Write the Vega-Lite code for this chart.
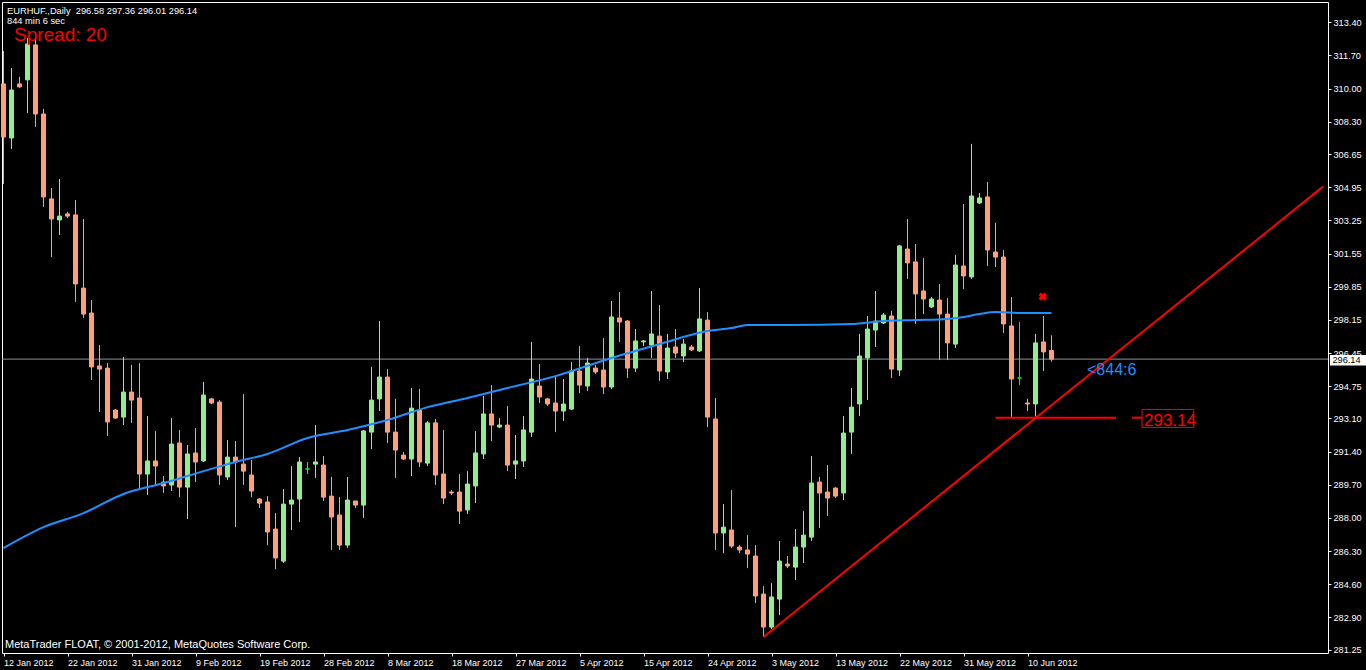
{
  "$schema": "https://vega.github.io/schema/vega-lite/v6.json",
  "width": 1326,
  "height": 651,
  "autosize": "none",
  "padding": {"left": 2, "top": 2, "right": 38, "bottom": 17},
  "background": "#000000",
  "config": {
    "view": {"stroke": "#ffffff", "strokeWidth": 1, "fill": "#000000"},
    "scale": {"continuousPadding": 0},
    "axis": {"labelOverlap": false, "labelFlush": false, "labelBound": false},
    "axisX": {"tickSize": 3, "tickColor": "#ffffff", "labelColor": "#ffffff", "labelFont": "Liberation Sans Narrow, Liberation Sans", "labelFontSize": 9, "labelAlign": "left", "labelDx": 1, "labelBaseline": "top", "labelPadding": 2, "domain": false, "grid": false, "labelOverlap": false, "labelFlush": false},
    "axisY": {"tickSize": 3, "tickColor": "#ffffff", "labelColor": "#ffffff", "labelFont": "Liberation Sans", "labelFontSize": 9.2, "labelPadding": 2, "domain": false, "grid": false, "labelOverlap": false, "labelFlush": false}
  },
  "resolve": {"scale": {"color": "independent", "stroke": "independent"}},
  "datasets": {
    "candles": [
      {"i":0,"o":310.24,"h":311.93,"l":305.12,"c":307.52,"t":"down"},
      {"i":1,"o":307.47,"h":311.06,"l":306.91,"c":309.93,"t":"up"},
      {"i":2,"o":310.24,"h":310.60,"l":310.04,"c":310.09,"t":"down"},
      {"i":3,"o":310.45,"h":312.60,"l":308.75,"c":312.29,"t":"up"},
      {"i":4,"o":312.24,"h":312.65,"l":308.04,"c":308.70,"t":"down"},
      {"i":5,"o":308.70,"h":308.96,"l":303.94,"c":304.45,"t":"down"},
      {"i":6,"o":304.35,"h":304.91,"l":301.37,"c":303.32,"t":"down"},
      {"i":7,"o":303.27,"h":305.37,"l":302.50,"c":303.47,"t":"up"},
      {"i":8,"o":303.58,"h":303.68,"l":303.37,"c":303.47,"t":"down"},
      {"i":9,"o":303.53,"h":304.29,"l":299.07,"c":299.99,"t":"down"},
      {"i":10,"o":299.78,"h":303.32,"l":298.25,"c":298.45,"t":"down"},
      {"i":11,"o":298.50,"h":299.17,"l":295.07,"c":295.74,"t":"down"},
      {"i":12,"o":295.79,"h":296.86,"l":293.43,"c":295.63,"t":"down"},
      {"i":13,"o":295.68,"h":295.94,"l":292.20,"c":292.92,"t":"down"},
      {"i":14,"o":293.53,"h":293.58,"l":293.07,"c":293.12,"t":"down"},
      {"i":15,"o":293.17,"h":296.25,"l":292.76,"c":294.45,"t":"up"},
      {"i":16,"o":294.45,"h":295.84,"l":292.87,"c":294.04,"t":"down"},
      {"i":17,"o":294.15,"h":295.94,"l":289.43,"c":290.25,"t":"down"},
      {"i":18,"o":290.25,"h":293.22,"l":289.17,"c":290.92,"t":"up"},
      {"i":19,"o":290.92,"h":292.45,"l":289.69,"c":290.66,"t":"down"},
      {"i":20,"o":289.84,"h":290.15,"l":289.28,"c":289.64,"t":"down"},
      {"i":21,"o":289.69,"h":293.12,"l":289.38,"c":291.79,"t":"up"},
      {"i":22,"o":291.84,"h":292.51,"l":289.07,"c":289.58,"t":"down"},
      {"i":23,"o":289.58,"h":291.74,"l":287.94,"c":291.28,"t":"up"},
      {"i":24,"o":291.33,"h":292.61,"l":289.84,"c":290.87,"t":"down"},
      {"i":25,"o":290.92,"h":294.97,"l":290.87,"c":294.30,"t":"up"},
      {"i":26,"o":294.10,"h":294.15,"l":293.84,"c":293.89,"t":"down"},
      {"i":27,"o":293.94,"h":294.04,"l":289.69,"c":290.20,"t":"down"},
      {"i":28,"o":290.10,"h":291.99,"l":289.94,"c":291.12,"t":"up"},
      {"i":29,"o":291.12,"h":291.94,"l":287.53,"c":290.87,"t":"down"},
      {"i":30,"o":290.76,"h":294.35,"l":289.69,"c":290.40,"t":"down"},
      {"i":31,"o":290.20,"h":290.97,"l":289.07,"c":289.38,"t":"down"},
      {"i":32,"o":288.97,"h":289.02,"l":288.51,"c":288.76,"t":"down"},
      {"i":33,"o":288.82,"h":289.12,"l":286.61,"c":287.28,"t":"down"},
      {"i":34,"o":287.43,"h":288.25,"l":285.38,"c":285.95,"t":"down"},
      {"i":35,"o":285.79,"h":289.48,"l":285.69,"c":288.71,"t":"up"},
      {"i":36,"o":288.71,"h":290.66,"l":287.38,"c":288.92,"t":"up"},
      {"i":37,"o":288.97,"h":291.12,"l":287.79,"c":290.87,"t":"up"},
      {"i":38,"o":290.51,"h":290.87,"l":290.25,"c":290.51,"t":"doji"},
      {"i":39,"o":290.76,"h":292.76,"l":290.05,"c":290.87,"t":"up"},
      {"i":40,"o":290.71,"h":291.17,"l":288.87,"c":289.07,"t":"down"},
      {"i":41,"o":289.12,"h":290.10,"l":286.36,"c":288.05,"t":"down"},
      {"i":42,"o":288.15,"h":289.07,"l":286.36,"c":286.61,"t":"down"},
      {"i":43,"o":286.61,"h":290.10,"l":286.46,"c":288.92,"t":"up"},
      {"i":44,"o":288.87,"h":288.87,"l":288.51,"c":288.66,"t":"down"},
      {"i":45,"o":288.66,"h":292.51,"l":288.00,"c":292.46,"t":"up"},
      {"i":46,"o":292.40,"h":295.74,"l":291.53,"c":294.04,"t":"up"},
      {"i":47,"o":294.10,"h":298.09,"l":293.48,"c":295.22,"t":"up"},
      {"i":48,"o":295.22,"h":295.63,"l":291.84,"c":292.40,"t":"down"},
      {"i":49,"o":292.40,"h":294.10,"l":290.05,"c":291.48,"t":"down"},
      {"i":50,"o":291.22,"h":291.38,"l":290.97,"c":291.02,"t":"down"},
      {"i":51,"o":291.02,"h":294.66,"l":290.15,"c":293.63,"t":"up"},
      {"i":52,"o":293.53,"h":294.61,"l":290.61,"c":290.87,"t":"down"},
      {"i":53,"o":290.81,"h":292.97,"l":290.66,"c":292.87,"t":"up"},
      {"i":54,"o":292.87,"h":293.07,"l":289.69,"c":290.20,"t":"down"},
      {"i":55,"o":290.25,"h":292.51,"l":288.71,"c":289.02,"t":"down"},
      {"i":56,"o":289.33,"h":289.43,"l":289.17,"c":289.28,"t":"down"},
      {"i":57,"o":289.33,"h":290.25,"l":287.69,"c":288.35,"t":"down"},
      {"i":58,"o":288.41,"h":290.40,"l":288.20,"c":289.74,"t":"up"},
      {"i":59,"o":289.64,"h":292.45,"l":288.76,"c":291.33,"t":"up"},
      {"i":60,"o":291.28,"h":294.25,"l":291.02,"c":293.33,"t":"up"},
      {"i":61,"o":293.33,"h":294.81,"l":291.94,"c":292.76,"t":"down"},
      {"i":62,"o":292.66,"h":293.12,"l":292.61,"c":292.76,"t":"up"},
      {"i":63,"o":292.76,"h":293.74,"l":290.40,"c":290.71,"t":"down"},
      {"i":64,"o":290.76,"h":292.25,"l":289.99,"c":290.92,"t":"up"},
      {"i":65,"o":290.92,"h":293.22,"l":290.61,"c":292.51,"t":"up"},
      {"i":66,"o":292.40,"h":297.02,"l":292.15,"c":295.12,"t":"up"},
      {"i":67,"o":294.76,"h":295.89,"l":293.89,"c":294.20,"t":"down"},
      {"i":68,"o":294.10,"h":294.15,"l":293.74,"c":293.84,"t":"down"},
      {"i":69,"o":293.89,"h":295.27,"l":292.40,"c":293.48,"t":"down"},
      {"i":70,"o":293.48,"h":295.12,"l":292.97,"c":293.84,"t":"up"},
      {"i":71,"o":293.58,"h":295.99,"l":293.53,"c":295.53,"t":"up"},
      {"i":72,"o":295.53,"h":296.81,"l":294.40,"c":294.81,"t":"down"},
      {"i":73,"o":294.76,"h":296.20,"l":294.51,"c":295.94,"t":"up"},
      {"i":74,"o":295.68,"h":295.84,"l":295.38,"c":295.48,"t":"down"},
      {"i":75,"o":295.58,"h":297.22,"l":294.35,"c":294.71,"t":"down"},
      {"i":76,"o":294.71,"h":299.12,"l":294.61,"c":298.30,"t":"up"},
      {"i":77,"o":298.25,"h":299.58,"l":297.02,"c":298.04,"t":"down"},
      {"i":78,"o":298.09,"h":298.14,"l":295.17,"c":295.68,"t":"down"},
      {"i":79,"o":295.68,"h":297.68,"l":295.48,"c":297.07,"t":"up"},
      {"i":80,"o":297.02,"h":297.12,"l":296.81,"c":297.07,"t":"up"},
      {"i":81,"o":296.86,"h":299.63,"l":296.20,"c":297.43,"t":"up"},
      {"i":82,"o":297.32,"h":298.91,"l":295.02,"c":295.53,"t":"down"},
      {"i":83,"o":295.48,"h":297.43,"l":295.12,"c":296.71,"t":"up"},
      {"i":84,"o":296.76,"h":297.68,"l":296.20,"c":296.45,"t":"down"},
      {"i":85,"o":296.30,"h":297.17,"l":295.99,"c":296.91,"t":"up"},
      {"i":86,"o":296.76,"h":296.86,"l":296.56,"c":296.61,"t":"down"},
      {"i":87,"o":296.56,"h":299.78,"l":296.50,"c":298.20,"t":"up"},
      {"i":88,"o":298.14,"h":298.55,"l":292.66,"c":293.17,"t":"down"},
      {"i":89,"o":293.07,"h":294.15,"l":286.36,"c":287.23,"t":"down"},
      {"i":90,"o":287.23,"h":288.71,"l":286.20,"c":287.53,"t":"up"},
      {"i":91,"o":287.38,"h":289.43,"l":286.46,"c":286.56,"t":"down"},
      {"i":92,"o":286.51,"h":286.61,"l":286.20,"c":286.36,"t":"down"},
      {"i":93,"o":286.36,"h":287.12,"l":285.43,"c":286.15,"t":"down"},
      {"i":94,"o":286.05,"h":286.61,"l":283.64,"c":284.00,"t":"down"},
      {"i":95,"o":284.10,"h":284.51,"l":281.90,"c":282.41,"t":"down"},
      {"i":96,"o":282.41,"h":284.66,"l":282.31,"c":283.95,"t":"up"},
      {"i":97,"o":283.84,"h":286.82,"l":283.02,"c":285.79,"t":"up"},
      {"i":98,"o":285.64,"h":286.05,"l":285.43,"c":285.54,"t":"down"},
      {"i":99,"o":285.48,"h":287.43,"l":284.82,"c":286.51,"t":"up"},
      {"i":100,"o":286.51,"h":288.35,"l":285.69,"c":287.12,"t":"up"},
      {"i":101,"o":287.02,"h":291.17,"l":286.82,"c":289.79,"t":"up"},
      {"i":102,"o":289.84,"h":290.10,"l":287.48,"c":289.28,"t":"down"},
      {"i":103,"o":289.33,"h":290.71,"l":288.10,"c":289.02,"t":"down"},
      {"i":104,"o":289.53,"h":289.58,"l":289.02,"c":289.12,"t":"down"},
      {"i":105,"o":289.28,"h":293.22,"l":288.92,"c":292.35,"t":"up"},
      {"i":106,"o":292.40,"h":294.66,"l":291.28,"c":293.68,"t":"up"},
      {"i":107,"o":293.84,"h":297.43,"l":293.22,"c":296.30,"t":"up"},
      {"i":108,"o":296.20,"h":298.35,"l":294.04,"c":297.68,"t":"up"},
      {"i":109,"o":297.63,"h":299.63,"l":296.76,"c":298.09,"t":"up"},
      {"i":110,"o":297.99,"h":298.50,"l":297.94,"c":298.40,"t":"up"},
      {"i":111,"o":298.35,"h":298.61,"l":295.17,"c":295.63,"t":"down"},
      {"i":112,"o":295.58,"h":301.99,"l":295.27,"c":301.94,"t":"up"},
      {"i":113,"o":301.78,"h":303.32,"l":300.25,"c":301.07,"t":"down"},
      {"i":114,"o":301.12,"h":302.04,"l":297.94,"c":299.48,"t":"down"},
      {"i":115,"o":299.63,"h":301.32,"l":298.45,"c":299.22,"t":"down"},
      {"i":116,"o":298.81,"h":299.32,"l":298.76,"c":299.22,"t":"up"},
      {"i":117,"o":299.17,"h":299.99,"l":296.09,"c":298.45,"t":"down"},
      {"i":118,"o":298.45,"h":299.27,"l":296.09,"c":296.97,"t":"down"},
      {"i":119,"o":296.91,"h":301.48,"l":296.71,"c":300.96,"t":"up"},
      {"i":120,"o":300.91,"h":304.09,"l":299.73,"c":300.40,"t":"down"},
      {"i":121,"o":300.35,"h":307.17,"l":300.25,"c":304.50,"t":"up"},
      {"i":122,"o":304.14,"h":304.65,"l":304.09,"c":304.40,"t":"up"},
      {"i":123,"o":304.45,"h":305.22,"l":300.91,"c":301.73,"t":"down"},
      {"i":124,"o":301.63,"h":303.12,"l":300.86,"c":301.37,"t":"down"},
      {"i":125,"o":301.37,"h":301.73,"l":297.48,"c":297.94,"t":"down"},
      {"i":126,"o":297.84,"h":299.32,"l":293.14,"c":295.12,"t":"down"},
      {"i":127,"o":295.17,"h":298.04,"l":294.81,"c":295.17,"t":"doji"},
      {"i":128,"o":293.89,"h":294.10,"l":293.48,"c":293.84,"t":"down"},
      {"i":129,"o":293.84,"h":297.43,"l":293.20,"c":296.97,"t":"up"},
      {"i":130,"o":297.02,"h":298.35,"l":295.53,"c":296.51,"t":"down"},
      {"i":131,"o":296.58,"h":297.36,"l":296.01,"c":296.14,"t":"down"}
    ],
    "ma": [
      {"i":0,"v":286.46},{"i":5,"v":287.53},{"i":10,"v":288.25},{"i":15,"v":289.23},
      {"i":20,"v":289.79},{"i":25,"v":290.40},{"i":29,"v":290.87},{"i":33,"v":291.28},
      {"i":38,"v":292.10},{"i":43,"v":292.51},{"i":48,"v":293.02},{"i":53,"v":293.68},
      {"i":58,"v":294.15},{"i":63,"v":294.66},{"i":69,"v":295.27},{"i":76,"v":296.20},
      {"i":82,"v":296.91},{"i":88,"v":297.58},{"i":91,"v":297.73},{"i":93,"v":297.89},
      {"i":98,"v":297.89},{"i":106,"v":297.94},{"i":110,"v":298.09},{"i":114,"v":298.14},
      {"i":118,"v":298.20},{"i":120,"v":298.30},{"i":122,"v":298.45},{"i":124,"v":298.55},
      {"i":127,"v":298.50},{"i":131,"v":298.50}
    ],
    "trend": [{"i":95,"v":281.90},{"i":164.94,"v":304.98}],
    "support": [{"i":124,"i2":139.06,"v":293.14},{"i":141.06,"i2":142.31,"v":293.14}],
    "bid": [{"v":296.14}]
  },
  "layer": [
    {
      "data": {"name": "bid"},
      "mark": {"type": "rule", "color": "#8a93a0", "strokeWidth": 1},
      "encoding": {
        "y": {"field": "v", "type": "quantitative", "scale": {"domain": [281.08, 314.44], "nice": false, "zero": false},
              "axis": {"orient": "right", "title": null, "format": ".2f", "tickCount": 40, "labelOverlap": false, "labelFlush": false, "labelBound": false,
                       "values": [313.40,311.70,310.00,308.30,306.65,304.95,303.25,301.55,299.85,298.15,296.45,294.75,293.10,291.40,289.70,288.00,286.30,284.60,282.90,281.25]}}
      }
    },
    {
      "data": {"name": "candles"},
      "mark": {"type": "rule", "strokeWidth": 1},
      "encoding": {
        "x": {"field": "i", "type": "quantitative",
              "scale": {"domain": [-0.1875, 165.5625], "nice": false, "zero": false, "padding": 0},
              "axis": {"orient": "bottom", "title": null, "tickCount": 40, "labelOverlap": false, "labelFlush": false, "values": [0,8,16,24,32,40,48,56,64,72,80,88,96,104,112,120,128],
                       "labelExpr": "['12 Jan 2012','22 Jan 2012','31 Jan 2012','9 Feb 2012','19 Feb 2012','28 Feb 2012','8 Mar 2012','18 Mar 2012','27 Mar 2012','5 Apr 2012','15 Apr 2012','24 Apr 2012','3 May 2012','13 May 2012','22 May 2012','31 May 2012','10 Jun 2012'][round(datum.value/8)]"}},
        "y": {"field": "l", "type": "quantitative",
              "scale": {"domain": [281.08, 314.44], "nice": false, "zero": false},
              "axis": {"orient": "right", "title": null, "format": ".2f", "tickCount": 40, "labelOverlap": false, "labelFlush": false, "labelBound": false,
                       "values": [313.40,311.70,310.00,308.30,306.65,304.95,303.25,301.55,299.85,298.15,296.45,294.75,293.10,291.40,289.70,288.00,286.30,284.60,282.90,281.25]}},
        "y2": {"field": "h"},
        "color": {"field": "t", "type": "nominal", "scale": {"domain": ["up","down","doji"], "range": ["#90EE90","#FFA07A","#00FF00"]}, "legend": null}
      }
    },
    {
      "data": {"name": "candles"},
      "mark": {"type": "bar", "size": 4, "strokeWidth": 1},
      "encoding": {
        "x": {"field": "i", "type": "quantitative", "scale": {"domain": [-0.1875, 165.5625], "nice": false, "zero": false, "padding": 0}, "axis": {"title": null, "labelOverlap": false}},
        "y": {"field": "o", "type": "quantitative", "scale": {"domain": [281.08, 314.44], "nice": false, "zero": false}, "axis": {"title": null, "labelOverlap": false}},
        "y2": {"field": "c"},
        "color": {"field": "t", "type": "nominal", "scale": {"domain": ["up","down","doji"], "range": ["#90EE90","#FFA07A","#00FF00"]}, "legend": null},
        "stroke": {"field": "t", "type": "nominal", "scale": {"domain": ["up","down","doji"], "range": ["#90EE90","#FFA07A","#00FF00"]}, "legend": null}
      }
    },
    {
      "data": {"name": "ma"},
      "mark": {"type": "line", "color": "#1E90FF", "strokeWidth": 2, "interpolate": "monotone"},
      "encoding": {
        "x": {"field": "i", "type": "quantitative", "scale": {"domain": [-0.1875, 165.5625], "nice": false, "zero": false, "padding": 0}, "axis": {"title": null, "labelOverlap": false}},
        "y": {"field": "v", "type": "quantitative", "scale": {"domain": [281.08, 314.44], "nice": false, "zero": false}, "axis": {"title": null, "labelOverlap": false}}
      }
    },
    {
      "data": {"name": "trend"},
      "mark": {"type": "line", "color": "#FF0000", "strokeWidth": 2},
      "encoding": {
        "x": {"field": "i", "type": "quantitative", "scale": {"domain": [-0.1875, 165.5625], "nice": false, "zero": false, "padding": 0}, "axis": {"title": null, "labelOverlap": false}},
        "y": {"field": "v", "type": "quantitative", "scale": {"domain": [281.08, 314.44], "nice": false, "zero": false}, "axis": {"title": null, "labelOverlap": false}}
      }
    },
    {
      "data": {"name": "support"},
      "mark": {"type": "rule", "color": "#FF0000", "strokeWidth": 2},
      "encoding": {
        "x": {"field": "i", "type": "quantitative", "scale": {"domain": [-0.1875, 165.5625], "nice": false, "zero": false, "padding": 0}, "axis": {"title": null, "labelOverlap": false}},
        "x2": {"field": "i2"},
        "y": {"field": "v", "type": "quantitative", "scale": {"domain": [281.08, 314.44], "nice": false, "zero": false}, "axis": {"title": null, "labelOverlap": false}}
      }
    },
    {
      "data": {"values": [{"i": 142.31, "i2": 148.78, "lo": 292.64, "hi": 293.56}]},
      "mark": {"type": "rect", "fill": null, "fillOpacity": 0, "stroke": "#FF0000", "strokeWidth": 1},
      "encoding": {
        "x": {"field": "i", "type": "quantitative", "scale": {"domain": [-0.1875, 165.5625], "nice": false, "zero": false, "padding": 0}, "axis": {"title": null, "labelOverlap": false}},
        "x2": {"field": "i2"},
        "y": {"field": "lo", "type": "quantitative", "scale": {"domain": [281.08, 314.44], "nice": false, "zero": false}, "axis": {"title": null, "labelOverlap": false}},
        "y2": {"field": "hi"}
      }
    },
    {
      "data": {"values": [{"i": 129.9, "v": 299.34}]},
      "mark": {"type": "point", "shape": "cross", "angle": 45, "filled": true, "size": 70, "color": "#FF0000", "opacity": 1},
      "encoding": {
        "x": {"field": "i", "type": "quantitative", "scale": {"domain": [-0.1875, 165.5625], "nice": false, "zero": false, "padding": 0}, "axis": {"title": null, "labelOverlap": false}},
        "y": {"field": "v", "type": "quantitative", "scale": {"domain": [281.08, 314.44], "nice": false, "zero": false}, "axis": {"title": null, "labelOverlap": false}}
      }
    },
    {
      "data": {"values": [{"i": 165.81, "i2": 170.31, "lo": 295.81, "hi": 296.35}]},
      "mark": {"type": "rect", "fill": "#ffffff"},
      "encoding": {
        "x": {"field": "i", "type": "quantitative", "scale": {"domain": [-0.1875, 165.5625], "nice": false, "zero": false, "padding": 0}, "axis": {"title": null, "labelOverlap": false}},
        "x2": {"field": "i2"},
        "y": {"field": "lo", "type": "quantitative", "scale": {"domain": [281.08, 314.44], "nice": false, "zero": false}, "axis": {"title": null, "labelOverlap": false}},
        "y2": {"field": "hi"}
      }
    },
    {
      "data": {"values": [
        {"i": 0.44, "v": 313.83, "text": "EURHUF.,Daily\u00a0 296.58 297.36 296.01 296.14"},
        {"i": 0.44, "v": 313.32, "text": "844 min 6 sec"}
      ]},
      "mark": {"type": "text", "align": "left", "baseline": "alphabetic", "font": "Liberation Sans", "fontSize": 9.3, "color": "#ffffff"},
      "encoding": {
        "x": {"field": "i", "type": "quantitative", "scale": {"domain": [-0.1875, 165.5625], "nice": false, "zero": false, "padding": 0}, "axis": {"title": null, "labelOverlap": false}},
        "y": {"field": "v", "type": "quantitative", "scale": {"domain": [281.08, 314.44], "nice": false, "zero": false}, "axis": {"title": null, "labelOverlap": false}},
        "text": {"field": "text"}
      }
    },
    {
      "data": {"values": [{"i": 0.19, "v": 281.33, "text": "MetaTrader FLOAT, © 2001-2012, MetaQuotes Software Corp."}]},
      "mark": {"type": "text", "align": "left", "baseline": "alphabetic", "font": "Liberation Sans", "fontSize": 11, "color": "#ffffff"},
      "encoding": {
        "x": {"field": "i", "type": "quantitative", "scale": {"domain": [-0.1875, 165.5625], "nice": false, "zero": false, "padding": 0}, "axis": {"title": null, "labelOverlap": false}},
        "y": {"field": "v", "type": "quantitative", "scale": {"domain": [281.08, 314.44], "nice": false, "zero": false}, "axis": {"title": null, "labelOverlap": false}},
        "text": {"field": "text"}
      }
    },
    {
      "data": {"values": [{"i": 1.31, "v": 312.46, "text": "Spread: 20"}]},
      "mark": {"type": "text", "align": "left", "baseline": "alphabetic", "font": "Liberation Sans", "fontSize": 19, "color": "#FF0000"},
      "encoding": {
        "x": {"field": "i", "type": "quantitative", "scale": {"domain": [-0.1875, 165.5625], "nice": false, "zero": false, "padding": 0}, "axis": {"title": null, "labelOverlap": false}},
        "y": {"field": "v", "type": "quantitative", "scale": {"domain": [281.08, 314.44], "nice": false, "zero": false}, "axis": {"title": null, "labelOverlap": false}},
        "text": {"field": "text"}
      }
    },
    {
      "data": {"values": [{"i": 135.44, "v": 295.34, "text": "<844:6"}]},
      "mark": {"type": "text", "align": "left", "baseline": "alphabetic", "font": "Liberation Sans", "fontSize": 16, "color": "#1E90FF"},
      "encoding": {
        "x": {"field": "i", "type": "quantitative", "scale": {"domain": [-0.1875, 165.5625], "nice": false, "zero": false, "padding": 0}, "axis": {"title": null, "labelOverlap": false}},
        "y": {"field": "v", "type": "quantitative", "scale": {"domain": [281.08, 314.44], "nice": false, "zero": false}, "axis": {"title": null, "labelOverlap": false}},
        "text": {"field": "text"}
      }
    },
    {
      "data": {"values": [{"i": 142.56, "v": 292.69, "text": "293.14"}]},
      "mark": {"type": "text", "align": "left", "baseline": "alphabetic", "font": "Liberation Sans", "fontSize": 17, "color": "#FF0000"},
      "encoding": {
        "x": {"field": "i", "type": "quantitative", "scale": {"domain": [-0.1875, 165.5625], "nice": false, "zero": false, "padding": 0}, "axis": {"title": null, "labelOverlap": false}},
        "y": {"field": "v", "type": "quantitative", "scale": {"domain": [281.08, 314.44], "nice": false, "zero": false}, "axis": {"title": null, "labelOverlap": false}},
        "text": {"field": "text"}
      }
    },
    {
      "data": {"values": [{"i": 166.12, "v": 295.95, "text": "296.14"}]},
      "mark": {"type": "text", "align": "left", "baseline": "alphabetic", "font": "Liberation Sans", "fontSize": 9.2, "color": "#000000"},
      "encoding": {
        "x": {"field": "i", "type": "quantitative", "scale": {"domain": [-0.1875, 165.5625], "nice": false, "zero": false, "padding": 0}, "axis": {"title": null, "labelOverlap": false}},
        "y": {"field": "v", "type": "quantitative", "scale": {"domain": [281.08, 314.44], "nice": false, "zero": false}, "axis": {"title": null, "labelOverlap": false}},
        "text": {"field": "text"}
      }
    }
  ]
}
